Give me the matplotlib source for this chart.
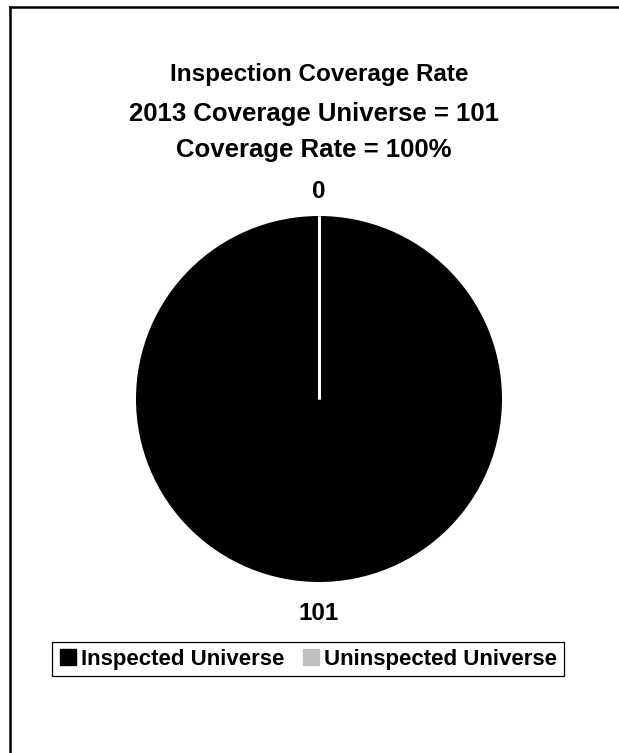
import matplotlib
matplotlib.use("Agg")
import matplotlib.pyplot as plt
from matplotlib.lines import Line2D
import numpy as np

plt.rcParams['font.family'] = ['Liberation Sans', 'DejaVu Sans']

categories = ["Inspected Universe", "Uninspected Universe"]
values = [101, 0]
colors = ["#000000", "#c0c0c0"]
title = "Inspection Coverage Rate"
subtitle1 = "2013 Coverage Universe = 101"
subtitle2 = "Coverage Rate = 100%"

W, H = 619, 753
fig = plt.figure(figsize=(W / 100, H / 100), dpi=100)

# outer frame (extends past the image at right/bottom)
fig.add_artist(Line2D([9.5 / W, 1.0], [1 - 6.5 / H, 1 - 6.5 / H], color="#000000", lw=1.8, transform=fig.transFigure))
fig.add_artist(Line2D([9.5 / W, 9.5 / W], [1 - 6.5 / H, 0.0], color="#000000", lw=1.8, transform=fig.transFigure))

cx, cy, r = 319, 399, 183
ax = fig.add_axes([(cx - r) / W, 1 - (cy + r) / H, 2 * r / W, 2 * r / H])
wedges, texts = ax.pie(values, colors=colors, startangle=90, counterclock=False,
                       labels=[str(v) for v in values], labeldistance=1.15,
                       textprops=dict(fontsize=17.5, fontweight="bold", color="#000000"))
label_dist = [1.17, 1.135]
for t, w, d in zip(texts, wedges, label_dist):
    mid = np.deg2rad((w.theta1 + w.theta2) / 2.0)
    t.set_position((d * np.cos(mid), d * np.sin(mid)))
    t.set_ha("center")
    t.set_va("center")
ax.set_xlim(-1, 1)
ax.set_ylim(-1, 1)
ax.axis("off")

# white boundary line between slices (from data angles)
start = 90.0
total = sum(values)
ang = start
for v in values:
    a = np.deg2rad(ang)
    ax.plot([0, np.cos(a)], [0, np.sin(a)], color="white", lw=2, solid_capstyle="butt")
    ang -= 360.0 * v / total

fig.text(319 / W, 1 - 75 / H, title, ha="center", va="center", fontsize=17.5, fontweight="bold")
fig.text(314 / W, 1 - 114 / H, subtitle1, ha="center", va="center", fontsize=18.5, fontweight="bold")
fig.text(314 / W, 1 - 150 / H, subtitle2, ha="center", va="center", fontsize=18.5, fontweight="bold")

handles = [Line2D([], [], marker="s", linestyle="none", markersize=12, markerfacecolor=c, markeredgecolor=c)
           for c in colors]
leg = fig.legend(handles, categories, loc="center", bbox_to_anchor=(308 / W, 1 - 659 / H), ncol=2,
                 frameon=True, fancybox=False, edgecolor="#000000", framealpha=1,
                 prop=dict(size=16, weight="bold"), handlelength=0.8, handletextpad=0.2,
                 columnspacing=0.8, borderpad=0.3, borderaxespad=0)
leg.get_frame().set_linewidth(0.9)

fig.savefig("out.png", dpi=100)
